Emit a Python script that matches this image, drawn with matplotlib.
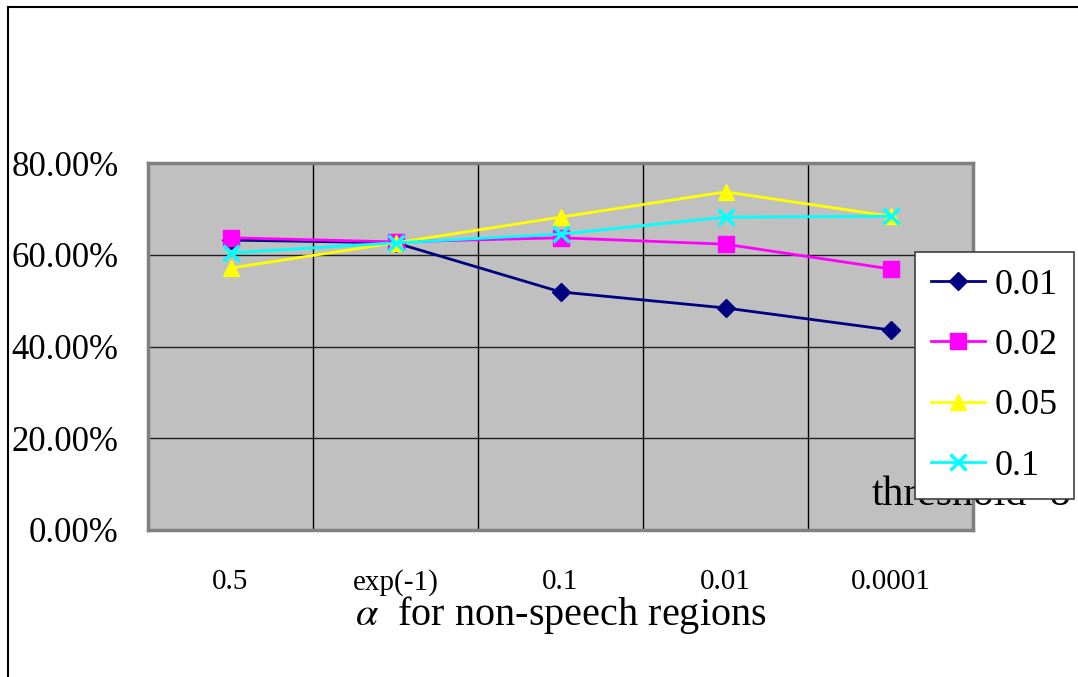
import matplotlib
matplotlib.use("Agg")
import matplotlib.pyplot as plt
from matplotlib.lines import Line2D

# data
categories = ["0.5", "exp(-1)", "0.1", "0.01", "0.0001"]
series_names = ["0.01", "0.02", "0.05", "0.1"]
s001 = [63.2, 62.6, 51.9, 48.4, 43.6]
s002 = [63.7, 62.8, 63.7, 62.3, 56.9]
s005 = [57.1, 62.6, 68.2, 73.7, 68.4]
s01 = [60.4, 62.6, 64.5, 68.2, 68.4]
yticks = [0, 20, 40, 60, 80]

colors = ["#000080", "#FF00FF", "#FFFF00", "#00FFFF"]
markers = ["D", "s", "^", "x"]
msizes = [9, 11, 11, 12]

plt.rcParams['font.family'] = ['Liberation Serif', 'DejaVu Serif']
plt.rcParams['mathtext.fontset'] = 'stix'

fig = plt.figure(figsize=(10.78, 6.77), dpi=100)
fig.patch.set_facecolor('white')

# outer frame (left and top edges visible)
fig.add_artist(Line2D([8/1078, 8/1078], [0, 1 - 7/677], color='black', lw=1.5, transform=fig.transFigure))
fig.add_artist(Line2D([8/1078, 1], [1 - 7/677, 1 - 7/677], color='black', lw=1.5, transform=fig.transFigure))

ax = fig.add_axes([148/1078, 147/677, 825/1078, 367/677])
ax.set_facecolor('#C0C0C0')

x = list(range(len(categories)))
for vals, name, c, m, ms in zip([s001, s002, s005, s01], series_names, colors, markers, msizes):
    mew = 2.5 if m == 'x' else 1
    ax.plot(x, vals, color=c, marker=m, markersize=ms, markeredgewidth=mew,
            lw=2, label=name, zorder=3, clip_on=False)

ax.set_xlim(-0.5, len(categories) - 0.5)
ax.set_ylim(0, 80)
for b in [0.5, 1.5, 2.5, 3.5]:
    ax.axvline(b, color='black', lw=1, zorder=1)
for t in yticks[1:-1]:
    ax.axhline(t, color='#202020', lw=1, zorder=1)

for s in ax.spines.values():
    s.set_color('#808080')
    s.set_linewidth(2.5)

ax.set_yticks(yticks)
ax.set_yticklabels([f"{v:.2f}%" for v in yticks], fontsize=25)
ax.set_xticks(x)
ax.set_xticklabels(categories, fontsize=21)
ax.tick_params(axis='y', length=0, pad=21)
ax.tick_params(axis='x', length=0, pad=28)
ax.set_xlabel(r"$\alpha$  for non-speech regions", fontsize=29, labelpad=-1)

ax.text(1.0 - 101/825, 25/367, "threshold=8", fontsize=30, transform=ax.transAxes,
        ha='left', va='baseline', zorder=2, clip_on=False)

leg = ax.legend(loc='upper left', bbox_to_anchor=((915 - 148)/825, (530 - 252)/367),
                fontsize=26, frameon=True, fancybox=False, edgecolor='#404040',
                framealpha=1, handlelength=1.5, labelspacing=0.75, borderpad=0.45,
                handletextpad=0.25, borderaxespad=0)
leg.get_frame().set_linewidth(1.2)
leg.set_zorder(5)

fig.savefig("out.png", dpi=100)
